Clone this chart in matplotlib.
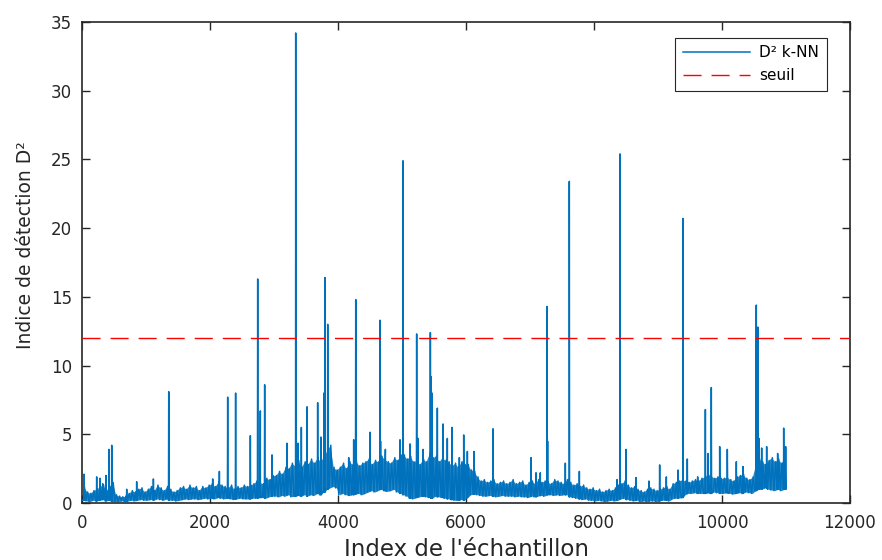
import matplotlib
matplotlib.use("Agg")
import matplotlib.pyplot as plt
import numpy as np

plt.rcParams['font.family'] = ['DejaVu Sans']
plt.rcParams['lines.scale_dashes'] = False

# ---- data ----
# lower / upper edge of the D² trace in consecutive blocks of 50 samples (0 .. 11000)
bin_size = 50
band_lo = [0.2, 0.15, 0.1, 0.2, 0.15, 0.2, 0.25, 0.15, 0.2, 0.1,
           0.1, 0.1, 0.15, 0.1, 0.15, 0.2, 0.15, 0.2, 0.25, 0.2,
           0.2, 0.25, 0.2, 0.3, 0.25, 0.2, 0.3, 0.2, 0.2, 0.15,
           0.2, 0.25, 0.3, 0.25, 0.3, 0.3, 0.25, 0.3, 0.35, 0.3,
           0.35, 0.3, 0.4, 0.35, 0.3, 0.35, 0.3, 0.25, 0.3, 0.35,
           0.3, 0.3, 0.3, 0.35, 0.35, 0.4, 0.4, 0.35, 0.45, 0.5,
           0.5, 0.45, 0.55, 0.5, 0.6, 0.45, 0.5, 0.55, 0.5, 0.6,
           0.5, 0.6, 0.55, 0.7, 0.6, 0.8, 1.0, 1.1, 1.2, 1.1,
           0.6, 0.7, 0.6, 0.55, 0.6, 0.65, 0.7, 0.6, 0.7, 0.8,
           0.9, 0.8, 0.9, 1.0, 0.9, 0.85, 0.9, 1.0, 0.8, 0.7,
           0.6, 0.5, 0.35, 0.3, 0.4, 0.45, 0.5, 0.45, 0.4, 0.35,
           0.5, 0.45, 0.4, 0.35, 0.3, 0.25, 0.2, 0.2, 0.25, 0.2,
           0.4, 0.6, 0.65, 0.6, 0.55, 0.5, 0.5, 0.55, 0.5, 0.45,
           0.5, 0.55, 0.5, 0.5, 0.5, 0.45, 0.5, 0.45, 0.45, 0.4,
           0.5, 0.45, 0.5, 0.55, 0.5, 0.6, 0.6, 0.55, 0.6, 0.55,
           0.6, 0.6, 0.45, 0.4, 0.35, 0.3, 0.25, 0.3, 0.2, 0.2,
           0.15, 0.2, 0.15, 0.1, 0.15, 0.2, 0.15, 0.2, 0.3, 0.35,
           0.25, 0.2, 0.15, 0.2, 0.1, 0.15, 0.1, 0.15, 0.15, 0.1,
           0.15, 0.2, 0.2, 0.15, 0.3, 0.35, 0.35, 0.4, 0.6, 0.7,
           0.7, 0.75, 0.7, 0.7, 0.7, 0.75, 0.7, 0.8, 0.75, 0.7,
           0.7, 0.75, 0.7, 0.65, 0.7, 0.75, 0.7, 0.8, 0.75, 0.7,
           0.9, 1.0, 1.0, 1.1, 1.0, 0.95, 0.9, 1.0, 0.9, 1.0]
band_hi = [1.2, 0.8, 0.7, 0.9, 1.0, 1.2, 1.3, 0.9, 1.2, 1.5,
           0.6, 0.5, 0.45, 0.5, 0.7, 0.9, 0.8, 1.0, 1.1, 0.8,
           1.0, 1.2, 0.9, 1.3, 1.1, 0.9, 1.2, 1.0, 0.8, 0.9,
           1.1, 1.2, 1.0, 1.3, 1.1, 1.2, 0.9, 1.2, 1.1, 1.3,
           1.4, 1.2, 1.5, 1.3, 1.2, 1.1, 1.3, 1.0, 1.2, 1.1,
           1.3, 1.2, 1.3, 1.4, 1.6, 1.5, 1.4, 1.8, 1.7, 2.0,
           2.0, 2.3, 2.1, 2.6, 2.5, 2.9, 2.7, 3.1, 2.6, 3.0,
           2.8, 3.2, 2.9, 3.3, 3.0, 3.4, 3.8, 4.2, 2.6, 2.4,
           2.6, 2.9, 2.5, 3.0, 2.8, 3.1, 2.7, 2.9, 3.0, 3.2,
           2.8, 3.1, 3.0, 3.4, 3.2, 3.0, 2.9, 3.3, 3.1, 3.5,
           3.5, 3.2, 3.4, 3.0, 3.1, 2.8, 3.2, 3.0, 3.6, 3.3,
           3.4, 3.0, 3.3, 3.1, 3.0, 2.7, 2.9, 2.6, 3.0, 2.8,
           2.8, 2.4, 2.3, 1.9, 1.6, 1.7, 1.5, 1.6, 1.7, 1.4,
           1.5, 1.6, 1.4, 1.5, 1.7, 1.4, 1.5, 1.6, 1.3, 1.5,
           1.6, 1.4, 1.7, 1.5, 1.6, 1.5, 1.4, 1.7, 1.6, 1.5,
           1.4, 1.7, 1.5, 1.3, 1.4, 1.2, 1.3, 1.1, 1.0, 1.1,
           0.9, 1.0, 0.8, 0.9, 1.0, 0.9, 1.1, 1.3, 1.4, 1.6,
           1.3, 1.1, 1.2, 1.0, 0.9, 0.8, 1.0, 1.1, 1.0, 0.9,
           1.0, 1.1, 1.2, 1.0, 1.4, 1.5, 1.6, 1.7, 1.6, 1.5,
           1.6, 1.7, 1.6, 1.8, 1.9, 2.1, 2.0, 1.8, 1.9, 1.8,
           1.8, 1.9, 1.7, 1.6, 1.9, 2.0, 2.1, 1.8, 1.7, 1.9,
           2.8, 3.2, 3.0, 2.8, 3.1, 3.3, 3.0, 3.2, 2.9, 3.3]

# isolated peaks: sample index and value
peak_idx = [30, 229, 281, 323, 375, 422, 464, 698, 854, 1115,
            1355, 2042, 2146, 2276, 2400, 2630, 2745, 2786, 2854, 2969,
            3203, 3339, 3375, 3427, 3516, 3682, 3734, 3780, 3797, 3839,
            4167, 4245, 4277, 4500, 4656, 4665, 4740, 4969, 5016, 5125,
            5229, 5250, 5330, 5443, 5455, 5470, 5552, 5641, 5708, 5780,
            5896, 5964, 6021, 6125, 6422, 7016, 7094, 7161, 7266, 7275,
            7552, 7614, 7771, 8360, 8406, 8500, 8656, 8860, 9026, 9130,
            9313, 9390, 9458, 9620, 9740, 9780, 9833, 9964, 10083, 10224,
            10328, 10536, 10560, 10580, 10620, 10698, 10870, 10964, 10995]
peak_val = [2.1, 1.9, 1.8, 1.4, 2.0, 3.9, 4.2, 1.0, 1.55, 1.75,
            8.1, 1.75, 2.3, 7.7, 8.0, 4.9, 16.3, 6.7, 8.6, 3.5,
            4.35, 34.2, 4.35, 5.5, 7.0, 7.3, 4.8, 8.0, 16.4, 13.0,
            3.3, 4.6, 14.8, 5.15, 13.3, 4.5, 3.9, 4.6, 24.9, 4.3,
            12.3, 4.7, 3.9, 12.4, 9.2, 8.0, 6.9, 5.75, 4.7, 5.5,
            3.3, 4.95, 3.75, 3.75, 5.4, 3.3, 2.2, 2.2, 14.3, 4.5,
            2.9, 23.4, 2.3, 1.7, 25.4, 3.9, 1.85, 1.6, 2.77, 1.9,
            2.4, 20.7, 3.2, 1.9, 6.8, 3.6, 8.4, 4.1, 3.9, 3.0,
            2.65, 14.4, 12.8, 4.7, 4.0, 4.1, 3.6, 5.45, 4.1]

threshold = 12
x_ticks = [0, 2000, 4000, 6000, 8000, 10000, 12000]
y_ticks = [0, 5, 10, 15, 20, 25, 30, 35]
series_label = 'D² k-NN'
threshold_label = 'seuil'
x_title = "Index de l'échantillon"
y_title = 'Indice de détection D²'

# ---- assemble the drawn series ----
starts = np.arange(len(band_lo)) * bin_size
xs = list(np.concatenate([starts + 12, starts + 37]))
ys = list(np.concatenate([band_lo, band_hi]))
for si, sv in zip(peak_idx, peak_val):
    base = band_lo[min(si // bin_size, len(band_lo) - 1)]
    xs += [si - 4, si, si + 4]
    ys += [base, sv, base]
order = np.argsort(xs, kind='stable')
xs = np.asarray(xs)[order]
ys = np.asarray(ys)[order]

blue = '#0072BD'
fig = plt.figure(figsize=(8.82, 5.6), dpi=100)
ax = fig.add_axes([0.093, 0.1018, 0.8707, 0.859])

ax.fill_between(starts + 25, band_lo, band_hi, color=blue, alpha=0.85, lw=0, zorder=2)
ax.plot(xs, ys, color=blue, lw=1.1, label=series_label, zorder=3)
ax.axhline(threshold, color='#FF0000', lw=1.0, dashes=(13, 7.2), label=threshold_label, zorder=4)

ax.set_xlim(0, 12000)
ax.set_ylim(0, 35)
ax.set_xticks(x_ticks)
ax.set_yticks(y_ticks)
ax.tick_params(direction='in', length=6, width=1, top=True, right=True,
               labelsize=12, colors='#262626')
ax.tick_params(axis='x', pad=8)
ax.tick_params(axis='y', pad=7)
for sp in ax.spines.values():
    sp.set_color('#262626')
    sp.set_linewidth(1.2)

ax.set_xlabel(x_title, fontsize=16.5, color='#262626', labelpad=4)
ax.set_ylabel(y_title, fontsize=13.5, color='#262626')
ax.yaxis.set_label_coords(-0.061, 0.536)

leg = ax.legend(loc='upper right', bbox_to_anchor=(0.970, 0.967), fontsize=11,
                frameon=True, fancybox=False, edgecolor='#262626', framealpha=1,
                handlelength=4.4, borderpad=0.5, labelspacing=0.5, handletextpad=0.6,
                borderaxespad=0)
leg.get_frame().set_linewidth(0.8)

fig.savefig('out.png', dpi=100)
